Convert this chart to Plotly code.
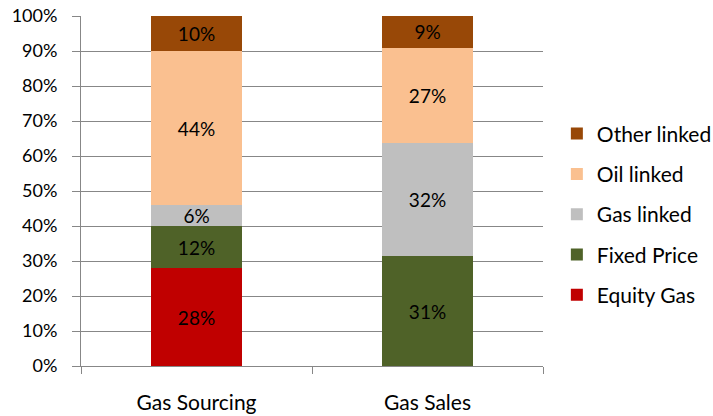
import plotly.graph_objects as go

# data
categories = ["Gas Sourcing", "Gas Sales"]
series = ["Equity Gas", "Fixed Price", "Gas linked", "Oil linked", "Other linked"]
equity_gas = [28, 0]
fixed_price = [12, 31]
gas_linked = [6, 32]
oil_linked = [44, 27]
other_linked = [10, 9]
colors = ["#C00000", "#4F6228", "#BFBFBF", "#FAC090", "#984807"]

FONT = "Lato, 'Open Sans', sans-serif"
GRID = "#878787"

fig = go.Figure()
for i, (name, vals, col) in enumerate(zip(series,
                                          [equity_gas, fixed_price, gas_linked, oil_linked, other_linked],
                                          colors)):
    fig.add_trace(go.Bar(
        name=name,
        x=categories,
        y=vals,
        marker=dict(color=col, line=dict(width=0)),
        text=[f"{v}%" if v else "" for v in vals],
        textposition="inside",
        insidetextanchor="middle",
        textangle=0,
        constraintext="none",
        textfont=dict(family=FONT, size=19, color="black"),
        legendgroup=name,
        legendrank=len(series) - i,
        hoverinfo="skip",
    ))

fig.update_layout(
    barmode="stack",
    barnorm="percent",
    bargap=0.605,
    width=713,
    height=416,
    margin=dict(l=81, r=170, t=16, b=50, autoexpand=False),
    plot_bgcolor="white",
    paper_bgcolor="white",
    font=dict(family=FONT, size=18, color="black"),
    legend=dict(
        traceorder="grouped",
        tracegroupgap=10,
        x=1.03, xanchor="left",
        y=0.433, yanchor="middle",
        font=dict(family=FONT, size=21, color="black"),
        bgcolor="rgba(0,0,0,0)",
    ),
    showlegend=True,
)

fig.update_yaxes(
    range=[0, 100],
    dtick=10,
    ticksuffix="%",
    showgrid=True,
    gridcolor=GRID,
    gridwidth=1,
    showline=True,
    linecolor=GRID,
    linewidth=1,
    ticks="outside",
    ticklen=8,
    tickcolor=GRID,
    ticklabelstandoff=11,
    zeroline=False,
    automargin=False,
    tickfont=dict(family=FONT, size=18),
)
fig.update_xaxes(
    showline=True,
    linecolor=GRID,
    linewidth=1,
    ticks="outside",
    tickson="boundaries",
    ticklen=7,
    tickcolor=GRID,
    ticklabelstandoff=18,
    automargin=False,
    tickfont=dict(family=FONT, size=21),
)

# drop the default 8px body margin so the figure sits at the page corner
fig.write_html("out.html", config={"displayModeBar": False},
               post_script="document.body.style.margin='0';")
